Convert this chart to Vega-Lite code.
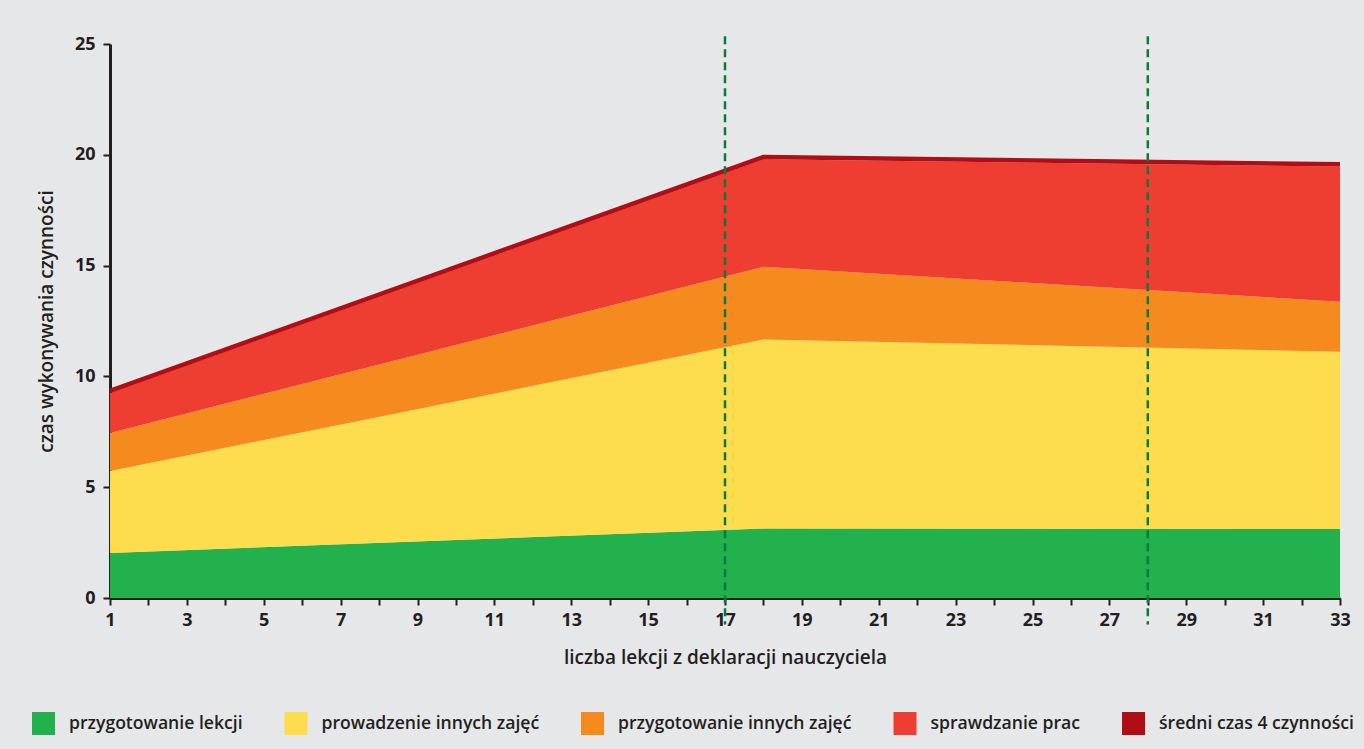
{
  "$schema": "https://vega.github.io/schema/vega-lite/v6.json",
  "width": 1230,
  "height": 554,
  "autosize": {"type": "none"},
  "padding": {"left": 110, "top": 44, "right": 24, "bottom": 151},
  "background": "#E6E7E8",
  "config": {
    "view": {"stroke": null},
    "font": "Open Sans",
    "axis": {
      "domainColor": "#231F20",
      "domainWidth": 3,
      "tickColor": "#231F20",
      "tickWidth": 2,
      "tickSize": 7,
      "labelFont": "Open Sans",
      "labelFontWeight": 700,
      "labelFontSize": 18,
      "labelColor": "#231F20",
      "titleFont": "Open Sans",
      "titleFontWeight": 600,
      "titleFontSize": 19,
      "titleColor": "#231F20",
      "grid": false,
      "zindex": 1
    }
  },
  "datasets": {
    "obszary": [
      {"x": 1, "kategoria": "przygotowanie lekcji", "nr": 1, "czas": 2.03},
      {"x": 1, "kategoria": "prowadzenie innych zajęć", "nr": 2, "czas": 3.70},
      {"x": 1, "kategoria": "przygotowanie innych zajęć", "nr": 3, "czas": 1.72},
      {"x": 1, "kategoria": "sprawdzanie prac", "nr": 4, "czas": 1.80},
      {"x": 18, "kategoria": "przygotowanie lekcji", "nr": 1, "czas": 3.14},
      {"x": 18, "kategoria": "prowadzenie innych zajęć", "nr": 2, "czas": 8.53},
      {"x": 18, "kategoria": "przygotowanie innych zajęć", "nr": 3, "czas": 3.28},
      {"x": 18, "kategoria": "sprawdzanie prac", "nr": 4, "czas": 4.85},
      {"x": 33, "kategoria": "przygotowanie lekcji", "nr": 1, "czas": 3.11},
      {"x": 33, "kategoria": "prowadzenie innych zajęć", "nr": 2, "czas": 8.00},
      {"x": 33, "kategoria": "przygotowanie innych zajęć", "nr": 3, "czas": 2.26},
      {"x": 33, "kategoria": "sprawdzanie prac", "nr": 4, "czas": 6.10}
    ],
    "srednia": [
      {"x": 1, "czas": 9.35},
      {"x": 18, "czas": 19.9},
      {"x": 33, "czas": 19.57}
    ],
    "progi": [
      {"x": 17},
      {"x": 28}
    ]
  },
  "encoding": {
    "x": {
      "field": "x",
      "type": "quantitative",
      "title": "liczba lekcji z deklaracji nauczyciela",
      "scale": {"domain": [1, 33], "nice": false, "zero": false},
      "axis": {
        "values": [1,2,3,4,5,6,7,8,9,10,11,12,13,14,15,16,17,18,19,20,21,22,23,24,25,26,27,28,29,30,31,32,33],
        "labelExpr": "datum.value % 2 == 1 ? datum.label : ''",
        "labelPadding": 6,
        "titlePadding": 19,
        "labelFlush": false,
        "labelOverlap": false
      }
    }
  },
  "layer": [
    {
      "data": {"name": "obszary"},
      "mark": {"type": "area", "opacity": 1},
      "encoding": {
        "y": {
          "field": "czas",
          "type": "quantitative",
          "stack": "zero",
          "title": "czas wykonywania czynności",
          "scale": {"domain": [0, 25], "nice": false},
          "axis": {"values": [0, 5, 10, 15, 20, 25], "labelPadding": 8, "titlePadding": 18}
        },
        "order": {"field": "nr", "type": "quantitative"},
        "color": {
          "field": "kategoria",
          "type": "nominal",
          "scale": {
            "domain": ["przygotowanie lekcji", "prowadzenie innych zajęć", "przygotowanie innych zajęć", "sprawdzanie prac", "średni czas 4 czynności"],
            "range": ["#22B14C", "#FDDD4E", "#F58B1F", "#EE3E31", "#B10D15"]
          },
          "legend": {
            "orient": "none",
            "legendX": -78,
            "legendY": 668,
            "direction": "horizontal",
            "title": null,
            "symbolType": "square",
            "symbolSize": 529,
            "symbolStrokeWidth": 0,
            "symbolOpacity": 1,
            "labelFont": "Open Sans",
            "labelFontSize": 17.6,
            "labelFontWeight": 600,
            "labelColor": "#231F20",
            "labelOffset": 14,
            "labelLimit": 400,
            "columnPadding": 41.5
          }
        }
      }
    },
    {
      "data": {"name": "srednia"},
      "mark": {"type": "line", "strokeWidth": 4.5, "strokeCap": "butt"},
      "encoding": {
        "y": {"field": "czas", "type": "quantitative"},
        "color": {"datum": "średni czas 4 czynności"}
      }
    },
    {
      "data": {"name": "progi"},
      "mark": {"type": "rule", "color": "#0B7A3C", "strokeWidth": 2.5, "strokeDash": [8, 5]},
      "encoding": {
        "y": {"datum": 25.35},
        "y2": {"datum": -1.2}
      }
    }
  ]
}
